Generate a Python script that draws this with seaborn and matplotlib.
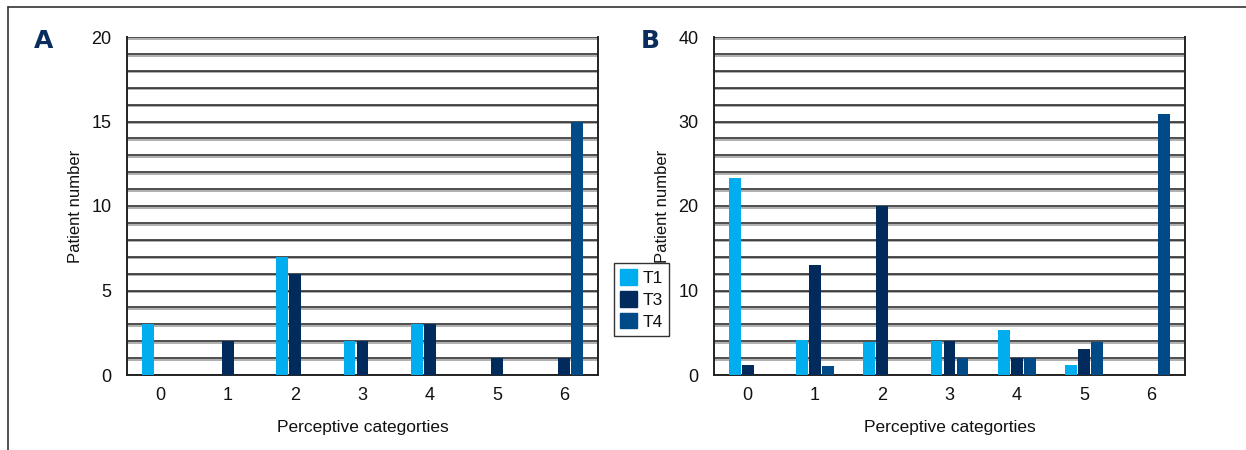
import numpy as np
import pandas as pd
import seaborn as sns
import matplotlib.pyplot as plt
import matplotlib.patheffects as pe
from matplotlib.lines import Line2D

# -----------------------------
# Data
# -----------------------------
categories = ["0", "1", "2", "3", "4", "5", "6"]
times = ["T1", "T3", "T4"]

a_t1 = [3, 0, 7, 2, 3, 0, 0]
a_t3 = [0, 2, 6, 2, 3, 1, 1]
a_t4 = [0, 0, 0, 0, 0, 0, 15]

b_t1 = [23.3, 4.1, 3.9, 4.0, 5.3, 1.2, 0]
b_t3 = [1.2, 13.0, 20.0, 4.0, 2.0, 3.1, 0]
b_t4 = [0, 1.1, 0, 2.0, 2.0, 3.9, 30.9]

colors = ["#00aeef", "#002b5c", "#004a87"]


def long_table(t1, t3, t4):
    rows = []
    for name, vals in zip(times, [t1, t3, t4]):
        for c, v in zip(categories, vals):
            rows.append({"category": c, "time": name, "count": v})
    return pd.DataFrame(rows)


df_a = long_table(a_t1, a_t3, a_t4)
df_b = long_table(b_t1, b_t3, b_t4)

sns.set_style("white")
plt.rcParams["font.family"] = ["Liberation Sans", "DejaVu Sans"]
plt.rcParams["text.color"] = "#111111"
plt.rcParams["axes.labelcolor"] = "#111111"
plt.rcParams["xtick.color"] = "#111111"
plt.rcParams["ytick.color"] = "#111111"

fig = plt.figure(figsize=(12.46, 4.5), dpi=100)
ax_a = fig.add_axes([127 / 1246, 75 / 450, 471 / 1246, 338 / 450])
ax_b = fig.add_axes([714 / 1246, 75 / 450, 471 / 1246, 338 / 450])

grid_fx = [pe.SimpleLineShadow(offset=(0, -1.2), shadow_color="#9a9a9a", alpha=1),
           pe.Normal()]


def draw_panel(ax, df, ymax, major, minor, letter, letter_x):
    sns.barplot(
        data=df, x="category", y="count", hue="time",
        order=categories, hue_order=times, palette=colors,
        width=0.58, gap=0.08, saturation=1, linewidth=0,
        ax=ax, zorder=3
    )
    ax.set_xlim(-0.5, 6.5)
    ax.set_ylim(0, ymax)
    ax.set_yticks(np.arange(0, ymax + 1, major))
    ax.set_yticks(np.arange(0, ymax + 1, minor), minor=True)
    ax.grid(True, axis="y", which="both", color="#1e1e1e", lw=1.1,
            path_effects=grid_fx)
    ax.set_axisbelow(True)
    for s in ["left", "bottom", "right"]:
        ax.spines[s].set_color("#222222")
        ax.spines[s].set_linewidth(1.4)
    ax.spines["top"].set_visible(False)
    ax.tick_params(axis="y", which="major", length=9, width=1.2,
                   color="#222222", pad=2, labelsize=13)
    ax.tick_params(axis="y", which="minor", length=0)
    ax.tick_params(axis="x", length=0, pad=9, labelsize=13)
    ax.set_xlabel("Perceptive categorties", fontsize=12.5, labelpad=11)
    ax.set_ylabel("Patient number", fontsize=12, labelpad=6)
    if ax.get_legend() is not None:
        ax.get_legend().remove()
    fig.text(letter_x / 1246, 1 - 41 / 450, letter, fontsize=18,
             fontweight="bold", color="#0a2d5e", ha="center", va="center",
             family=["DejaVu Sans"])


draw_panel(ax_a, df_a, 20, 5, 1, "A", 44)
draw_panel(ax_b, df_b, 40, 10, 2, "B", 650)

# shared legend between the panels
handles = [plt.Rectangle((0, 0), 1, 1, color=c) for c in colors]
leg = fig.legend(
    handles, times, loc="upper left",
    bbox_to_anchor=(614 / 1246, 1 - 263 / 450),
    fontsize=12.5, frameon=True, fancybox=False, edgecolor="black",
    handlelength=1.0, handleheight=1.0, handletextpad=0.3,
    borderpad=0.35, labelspacing=0.3, borderaxespad=0
)
leg.get_frame().set_linewidth(1.0)

# outer frame lines (top and left)
fig.add_artist(Line2D([8 / 1246, 1], [1 - 7 / 450, 1 - 7 / 450],
                      color="#333333", lw=1.2, transform=fig.transFigure))
fig.add_artist(Line2D([8 / 1246, 8 / 1246], [0, 1 - 7 / 450],
                      color="#333333", lw=1.2, transform=fig.transFigure))

fig.savefig("out.png", dpi=100)
